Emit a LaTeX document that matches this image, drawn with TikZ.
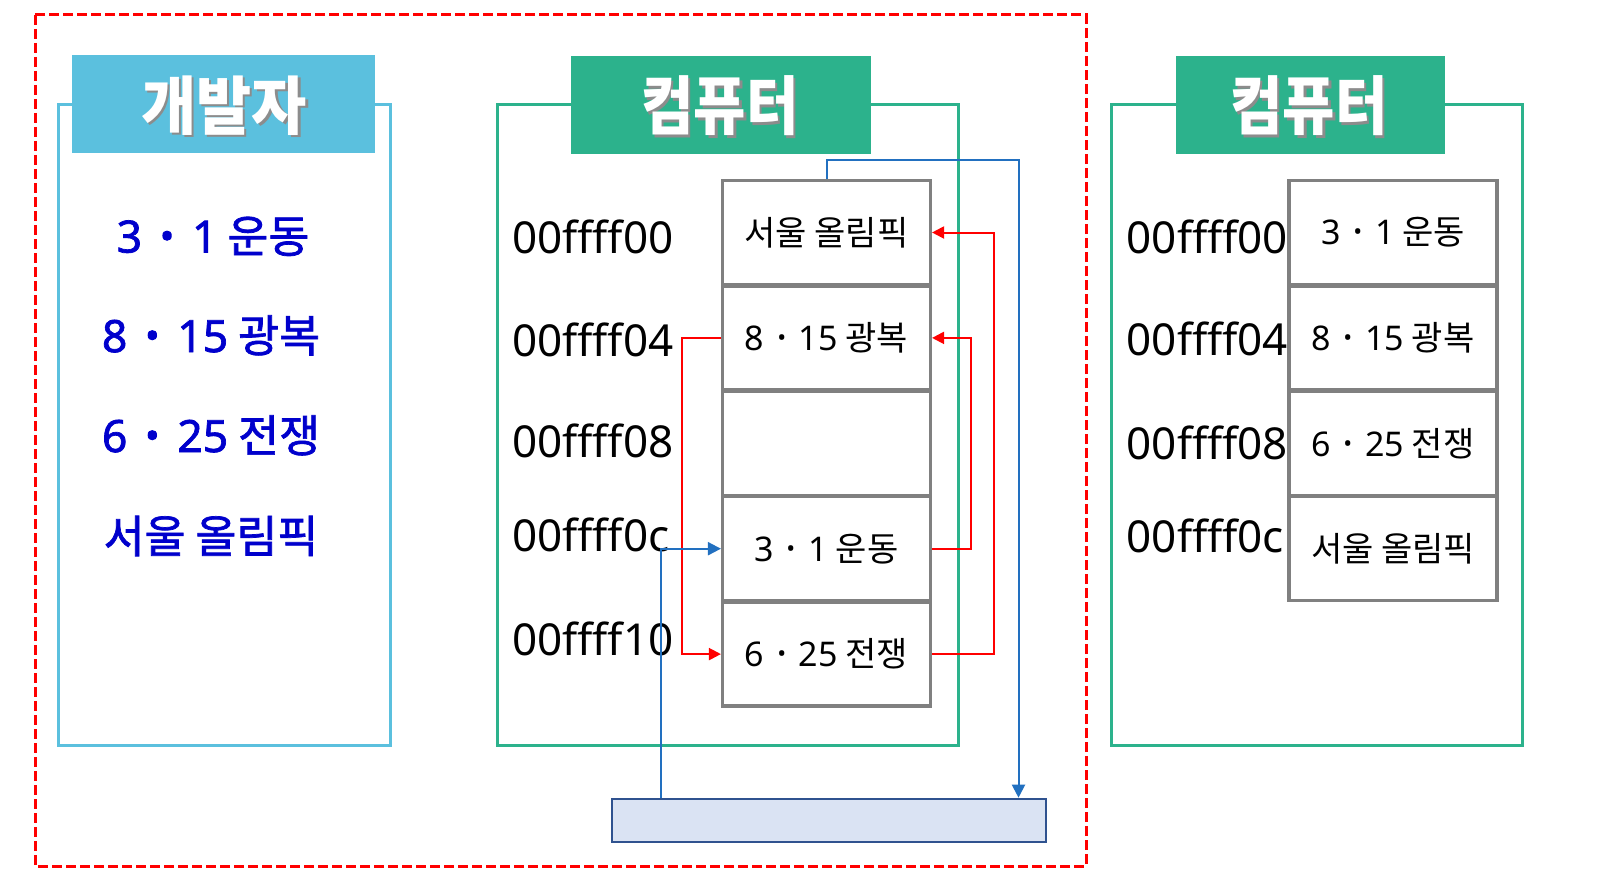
\documentclass[tikz,border=0pt]{standalone}
\usepackage{fontspec}
\setmainfont{Noto Sans}
\newfontfamily\kr{Noto Sans CJK KR}
\newfontfamily\krfb[FakeBold=1.6]{Noto Sans CJK KR}
\newfontfamily\nt{Noto Sans}
\newfontfamily\ntfb[FakeBold=1.6]{Noto Sans}
\newcommand\cdotm{\hspace{0.08em}\raisebox{-0.06em}{\scalebox{1.25}{\bfseries ·}}\hspace{0.08em}}
\newcommand\ldotm{\hspace{0.1em}\raisebox{-0.15em}{\scalebox{1.5}{\bfseries ·}}\hspace{0.1em}}
\usetikzlibrary{arrows.meta}
\definecolor{skyb}{RGB}{91,192,222}
\definecolor{grn}{RGB}{44,178,140}
\definecolor{cellg}{RGB}{128,128,128}
\definecolor{lblue}{RGB}{0,0,204}
\definecolor{lnblue}{RGB}{34,112,192}
\definecolor{rfill}{RGB}{218,227,243}
\definecolor{rdraw}{RGB}{47,82,143}
\begin{document}
\begin{tikzpicture}[x=1pt,y=-1pt,
  frameL/.style={draw=skyb,line width=3pt},
  frameG/.style={draw=grn,line width=3pt},
  hdrbox/.style={inner sep=0pt,minimum height=98pt},
  hdrtxt/.style={inner sep=0pt,text=white},
  hdrshadow/.style={inner sep=0pt,text=black!45},
  cell/.style={draw=cellg,line width=3.5pt,minimum width=207.6pt,minimum height=104pt,inner sep=0pt,font=\kr\fontsize{34}{34}\selectfont},
  addr/.style={anchor=base west,inner sep=0pt,font=\fontsize{44}{44}\selectfont},
  dev/.style={text=lblue,inner sep=0pt,font=\krfb\fontsize{44.5}{44.5}\selectfont},
  redarrow/.style={draw=red,line width=2pt,-{Triangle[length=12pt,width=12pt]}},
  bluearrow/.style={draw=lnblue,line width=2pt,-{Triangle[length=13pt,width=13pt]}},
]
\useasboundingbox (0,0) rectangle (1612,880);
\fill[white] (0,0) rectangle (1612,880);

% outer dashed boundary
\draw[red,line width=3pt,dash pattern=on 10pt off 4pt] (35,15) rectangle (1086,866);

% frames
\draw[frameL] (58,105) rectangle (390,745);
\draw[frameG] (497.6,105) rectangle (958,745);
\draw[frameG] (1111,105) rectangle (1522.5,745);

% headers
\node[hdrbox,fill=skyb,minimum width=303pt] (hL) at (223.5,104.5) {};
\node[hdrbox,fill=grn,minimum width=300pt] (hM) at (720.6,105) {};
\node[hdrbox,fill=grn,minimum width=269pt] (hR) at (1310.3,105) {};
\node[hdrshadow,font=\kr\bfseries\fontsize{60}{60}\selectfont] (sL) at (226.5,108) {\scalebox{1}[1.06]{개발자}};
\node[hdrtxt,font=\kr\bfseries\fontsize{60}{60}\selectfont] (tL) at (224,105.5) {\scalebox{1}[1.06]{개발자}};
\node[hdrshadow,font=\kr\bfseries\fontsize{57}{57}\selectfont] (sM) at (722.5,108.5) {\scalebox{1}[1.12]{컴퓨터}};
\node[hdrtxt,font=\kr\bfseries\fontsize{57}{57}\selectfont] (tM) at (720,106) {\scalebox{1}[1.12]{컴퓨터}};
\node[hdrshadow,font=\kr\bfseries\fontsize{57}{57}\selectfont] (sR) at (1311.5,108.5) {\scalebox{1}[1.12]{컴퓨터}};
\node[hdrtxt,font=\kr\bfseries\fontsize{57}{57}\selectfont] (tR) at (1309,106) {\scalebox{1}[1.12]{컴퓨터}};

% developer list
\node[dev] (d1) at (213,238) {{\ntfb 3 \ldotm{} 1} 운동};
\node[dev] (d2) at (211,337) {{\ntfb 8 \ldotm{} 15} 광복};
\node[dev] (d3) at (211,437) {{\ntfb 6 \ldotm{} 25} 전쟁};
\node[dev] (d4) at (211,536) {서울 올림픽};

% middle memory
\node[cell] (m1) at (826.5,232.5) {서울 올림픽};
\node[cell] (m2) at (826.5,337.9) {{\nt 8 \cdotm{} 15} 광복};
\node[cell] (m3) at (826.5,443.3) {};
\node[cell] (m4) at (826.5,548.7) {{\nt 3 \cdotm{} 1} 운동};
\node[cell] (m5) at (826.5,654.1) {{\nt 6 \cdotm{} 25} 전쟁};

\node[addr] (a1) at (512,253) {00ffff00};
\node[addr] (a2) at (512,356.5) {00ffff04};
\node[addr] (a3) at (512,457.5) {00ffff08};
\node[addr] (a4) at (512,551.5) {00ffff0c};
\node[addr] (a5) at (512,655.5) {00ffff10};

% right memory
\node[cell] (r1) at (1393,232.5) {{\nt 3 \cdotm{} 1} 운동};
\node[cell] (r2) at (1393,337.9) {{\nt 8 \cdotm{} 15} 광복};
\node[cell] (r3) at (1393,443.3) {{\nt 6 \cdotm{} 25} 전쟁};
\node[cell] (r4) at (1393,548.7) {서울 올림픽};

\node[addr] (b1) at (1126.5,253) {00ffff00};
\node[addr] (b2) at (1126.5,355) {00ffff04};
\node[addr] (b3) at (1126.5,459) {00ffff08};
\node[addr] (b4) at (1126.5,552) {00ffff0c};

% bottom bar
\node[draw=rdraw,fill=rfill,line width=2pt,minimum width=433.7pt,minimum height=43.6pt,inner sep=0pt] (bx) at (829.2,820.5) {};

% red links
\draw[redarrow] (m2.west) -- ++(-39,0) |- (m5.west);
\draw[redarrow] (m4.east) -- ++(38.5,0) |- (m2.east);
\draw[redarrow] (m5.east) -- ++(61.5,0) |- (m1.east);

% blue links
\draw[bluearrow] (m1.north) -- ++(0,-18.5) -| ([xshift=189.3pt]bx.north);
\draw[bluearrow] ([xshift=-168.2pt]bx.north) |- (m4.west);
\end{tikzpicture}
\end{document}
